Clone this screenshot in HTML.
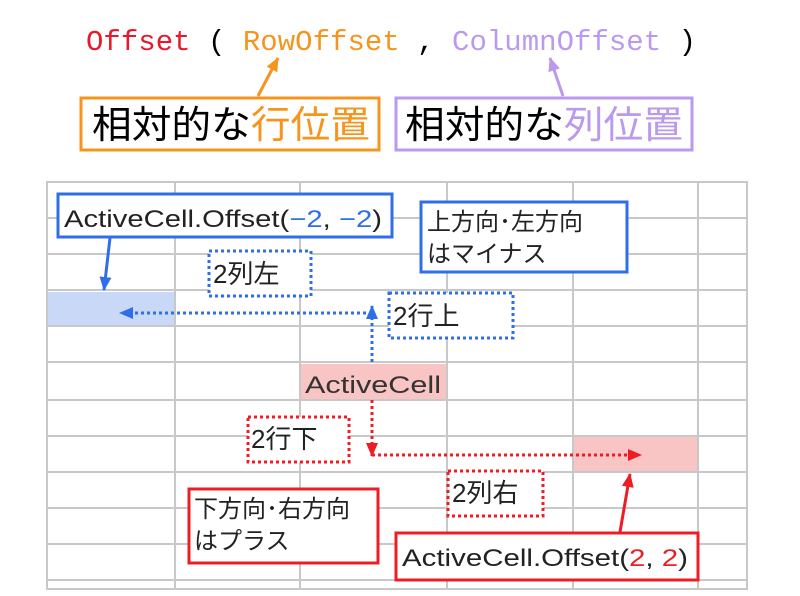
<!DOCTYPE html>
<html><head><meta charset="utf-8"><style>
html,body{margin:0;padding:0;background:#fff;}
svg{display:block;}
.j{font-family:"Liberation Sans","Noto Sans CJK JP",sans-serif;}
</style></head><body>
<svg width="800" height="596" viewBox="0 0 800 596" xmlns="http://www.w3.org/2000/svg">
<defs>
<marker id="ab2" markerWidth="14" markerHeight="12" refX="13" refY="6" orient="auto" markerUnits="userSpaceOnUse"><path d="M0,0 L14,6 L0,12 z" fill="#2f6ee8"/></marker>
<marker id="ar" markerWidth="14" markerHeight="12" refX="13" refY="6" orient="auto" markerUnits="userSpaceOnUse"><path d="M0,0 L14,6 L0,12 z" fill="#ee1c25"/></marker>
<marker id="ao" markerWidth="14" markerHeight="12" refX="13" refY="6" orient="auto" markerUnits="userSpaceOnUse"><path d="M0,0 L14,6 L0,12 z" fill="#f7941d"/></marker>
<marker id="ap" markerWidth="14" markerHeight="12" refX="13" refY="6" orient="auto" markerUnits="userSpaceOnUse"><path d="M0,0 L14,6 L0,12 z" fill="#bb99ee"/></marker>
</defs>
<text x="86" y="50" font-family="Liberation Mono,monospace" font-size="29" textLength="610" lengthAdjust="spacing"><tspan fill="#e8192c">Offset</tspan><tspan fill="#000"> ( </tspan><tspan fill="#f7941d">RowOffset</tspan><tspan fill="#000"> , </tspan><tspan fill="#bb99ee">ColumnOffset</tspan><tspan fill="#000"> )</tspan></text>
<line x1="258" y1="96" x2="278" y2="58" stroke="#f7941d" stroke-width="3" marker-end="url(#ao)"/>
<line x1="563" y1="96" x2="550" y2="58" stroke="#bb99ee" stroke-width="3" marker-end="url(#ap)"/>
<rect x="81" y="98" width="298" height="52" fill="#fff" stroke="#f7941d" stroke-width="3"/>
<rect x="396" y="98" width="296" height="52" fill="#fff" stroke="#bb99ee" stroke-width="3"/>
<text class="j" x="92" y="138" font-size="38" textLength="278" lengthAdjust="spacingAndGlyphs"><tspan fill="#000">相対的な</tspan><tspan fill="#f7941d">行位置</tspan></text>
<text class="j" x="405" y="138" font-size="38" textLength="278" lengthAdjust="spacingAndGlyphs"><tspan fill="#000">相対的な</tspan><tspan fill="#bb99ee">列位置</tspan></text>
<rect x="48" y="292" width="127" height="34" fill="#c9d8f7"/>
<rect x="300" y="364" width="147" height="36" fill="#f8c4c4"/>
<rect x="573" y="436" width="125" height="36" fill="#f8c4c4"/>
<g stroke="#c8c8c8" stroke-width="2">
<line x1="46" y1="182" x2="748" y2="182"/>
<line x1="46" y1="218" x2="748" y2="218"/>
<line x1="46" y1="254" x2="748" y2="254"/>
<line x1="46" y1="290" x2="748" y2="290"/>
<line x1="46" y1="326" x2="748" y2="326"/>
<line x1="46" y1="362" x2="748" y2="362"/>
<line x1="46" y1="400" x2="748" y2="400"/>
<line x1="46" y1="436" x2="748" y2="436"/>
<line x1="46" y1="472" x2="748" y2="472"/>
<line x1="46" y1="508" x2="748" y2="508"/>
<line x1="46" y1="544" x2="748" y2="544"/>
<line x1="46" y1="580" x2="748" y2="580"/>
<line x1="46" y1="589" x2="748" y2="589"/>
<line x1="47" y1="182" x2="47" y2="589"/>
<line x1="175" y1="182" x2="175" y2="589"/>
<line x1="300" y1="182" x2="300" y2="589"/>
<line x1="447" y1="182" x2="447" y2="589"/>
<line x1="573" y1="182" x2="573" y2="589"/>
<line x1="698" y1="182" x2="698" y2="589"/>
<line x1="747" y1="182" x2="747" y2="589"/>
</g>
<line x1="110" y1="238" x2="104" y2="290" stroke="#2f6ee8" stroke-width="3" marker-end="url(#ab2)"/>
<line x1="372" y1="362" x2="372" y2="306" stroke="#2f6ee8" stroke-width="3" stroke-dasharray="3,3" marker-end="url(#ab2)"/>
<line x1="372" y1="313" x2="120" y2="313" stroke="#2f6ee8" stroke-width="3" stroke-dasharray="3,3" marker-end="url(#ab2)"/>
<rect x="58" y="194" width="334" height="43" fill="#fff" stroke="#2f6ee8" stroke-width="3"/>
<text class="j" x="64" y="227" font-size="24" fill="#222" textLength="318" lengthAdjust="spacingAndGlyphs">ActiveCell.Offset(<tspan fill="#2f6ee8">−2</tspan>, <tspan fill="#2f6ee8">−2</tspan>)</text>
<rect x="421" y="202" width="206" height="70" fill="#fff" stroke="#2f6ee8" stroke-width="3"/>
<text class="j" x="427" y="230" font-size="24" fill="#222">上方向･左方向</text>
<text class="j" x="427" y="262" font-size="24" fill="#222">はマイナス</text>
<rect x="209" y="251" width="102" height="45" fill="#fff" stroke="#2f6ee8" stroke-width="3" stroke-dasharray="3,3"/>
<text class="j" x="213" y="283" font-size="26" fill="#222">2列左</text>
<rect x="389" y="293" width="124" height="45" fill="#fff" stroke="#2f6ee8" stroke-width="3" stroke-dasharray="3,3"/>
<text class="j" x="393" y="325" font-size="26" fill="#222">2行上</text>
<text class="j" x="305" y="393" font-size="24" fill="#333" textLength="136" lengthAdjust="spacingAndGlyphs">ActiveCell</text>
<line x1="372" y1="400" x2="372" y2="456" stroke="#ee1c25" stroke-width="3" stroke-dasharray="3,3" marker-end="url(#ar)"/>
<line x1="372" y1="455" x2="641" y2="455" stroke="#ee1c25" stroke-width="3" stroke-dasharray="3,3" marker-end="url(#ar)"/>
<line x1="620" y1="532" x2="630" y2="474" stroke="#ee1c25" stroke-width="3" marker-end="url(#ar)"/>
<rect x="248" y="417" width="101" height="45" fill="#fff" stroke="#ee1c25" stroke-width="3" stroke-dasharray="3,3"/>
<text class="j" x="251" y="448" font-size="26" fill="#222">2行下</text>
<rect x="448" y="471" width="95" height="45" fill="#fff" stroke="#ee1c25" stroke-width="3" stroke-dasharray="3,3"/>
<text class="j" x="452" y="502" font-size="26" fill="#222">2列右</text>
<rect x="189" y="489" width="189" height="74" fill="#fff" stroke="#ee1c25" stroke-width="3"/>
<text class="j" x="194" y="517" font-size="24" fill="#222">下方向･右方向</text>
<text class="j" x="194" y="549" font-size="24" fill="#222">はプラス</text>
<rect x="396" y="533" width="302" height="47" fill="#fff" stroke="#ee1c25" stroke-width="3"/>
<text class="j" x="402" y="566" font-size="24" fill="#222" textLength="286" lengthAdjust="spacingAndGlyphs">ActiveCell.Offset(<tspan fill="#ee1c25">2</tspan>, <tspan fill="#ee1c25">2</tspan>)</text>
</svg>
</body></html>
